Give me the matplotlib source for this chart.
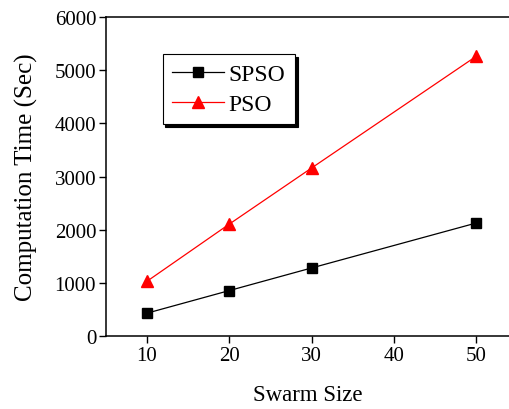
import numpy as np
import matplotlib
matplotlib.use("Agg")
import matplotlib.pyplot as plt

plt.rcParams['font.family'] = ['Liberation Serif', 'DejaVu Serif']

# data
swarm_size = [10, 20, 30, 50]
spso_time = [430, 855, 1280, 2125]
pso_time = [1030, 2105, 3160, 5260]

fig = plt.figure(figsize=(5.09, 4.10), dpi=100)
ax = fig.add_axes([0.208, 0.178, 0.792, 0.778])

ax.plot(swarm_size, spso_time, color='black', lw=0.9, marker='s', ms=7,
        mec='black', mfc='black', label='SPSO')
ax.plot(swarm_size, pso_time, color='red', lw=0.9, marker='^', ms=8,
        mec='red', mfc='red', label='PSO')

ax.set_xlim(5, 54)
ax.set_ylim(0, 6000)
ax.set_xticks([10, 20, 30, 40, 50])
ax.set_yticks(np.arange(0, 6001, 1000))
ax.tick_params(direction='out', length=5, width=1, labelsize=15, pad=2)
ax.spines['right'].set_visible(False)
for s in ['left', 'bottom', 'top']:
    ax.spines[s].set_linewidth(1.1)

ax.set_xlabel('Swarm Size', fontsize=16.5, labelpad=14)
ax.set_ylabel('Computation Time (Sec)', fontsize=18, labelpad=12)

leg = ax.legend(loc='upper left', bbox_to_anchor=(0.141, 0.884), borderaxespad=0,
                fontsize=17, numpoints=1, handlelength=2.2, handletextpad=0.2,
                labelspacing=0.35, borderpad=0.4, fancybox=False,
                edgecolor='black', framealpha=1,
                shadow={'facecolor': 'black', 'edgecolor': 'black', 'alpha': 1})
leg.get_frame().set_linewidth(0.8)

fig.savefig('out.png', dpi=100)
